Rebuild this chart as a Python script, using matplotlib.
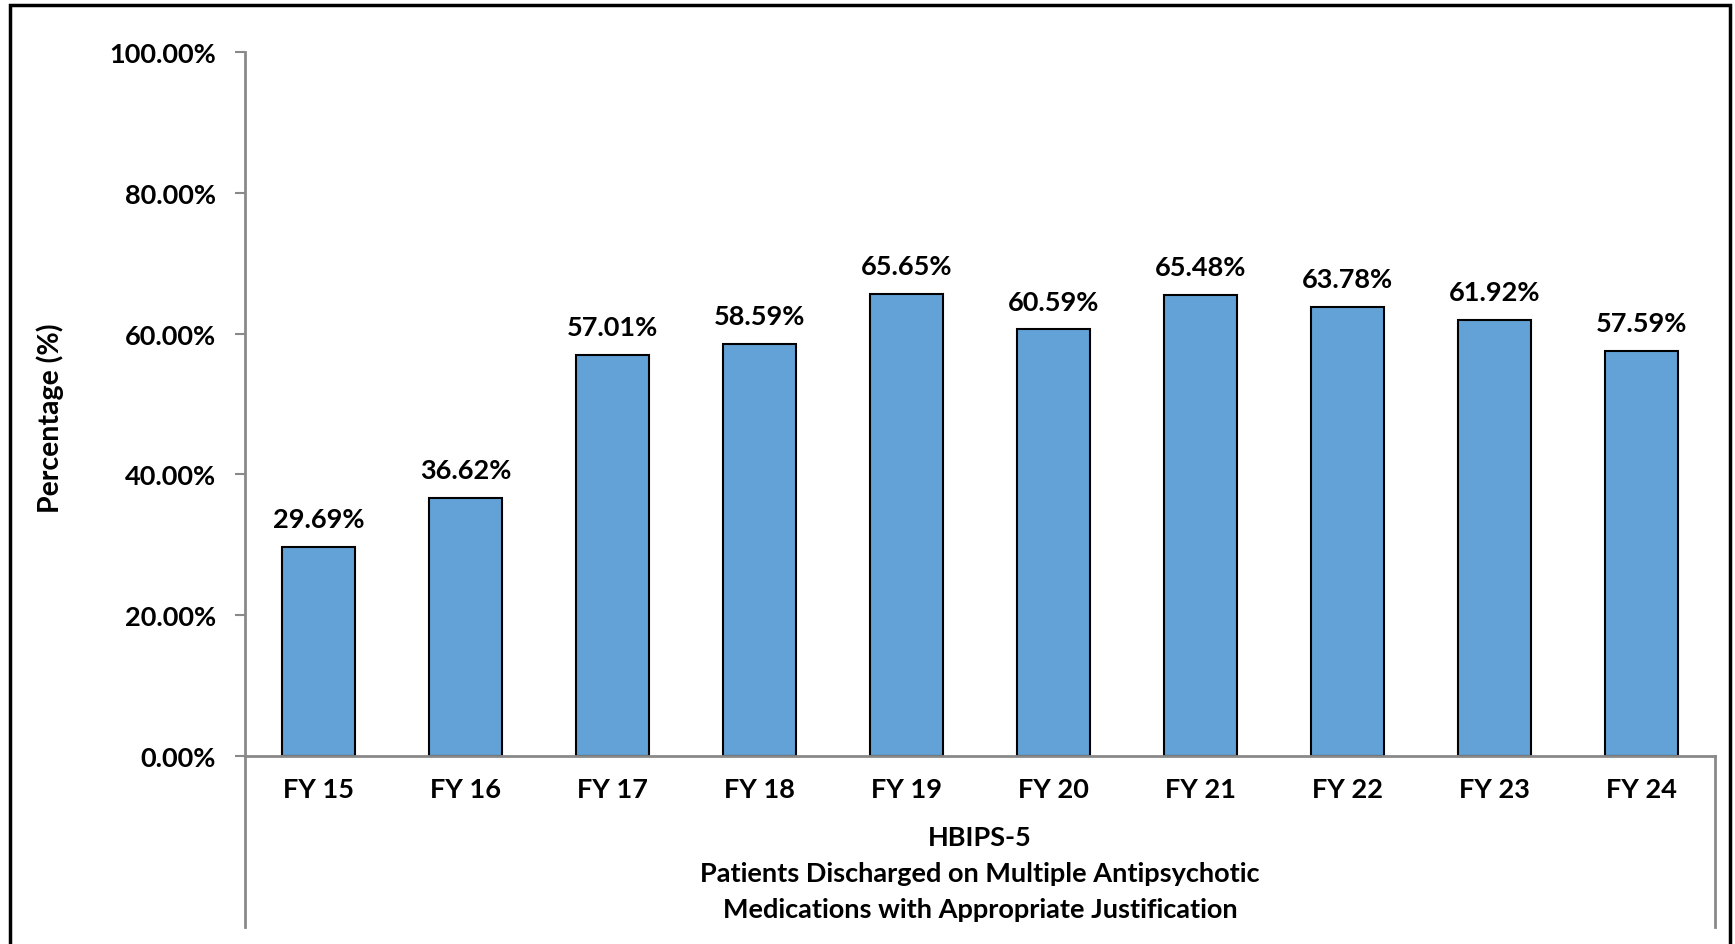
import matplotlib.pyplot as plt
from matplotlib.patches import Rectangle

years = ["FY 15", "FY 16", "FY 17", "FY 18", "FY 19", "FY 20", "FY 21", "FY 22", "FY 23", "FY 24"]
values = [29.69, 36.62, 57.01, 58.59, 65.65, 60.59, 65.48, 63.78, 61.92, 57.59]
yticks = [0, 20, 40, 60, 80, 100]
titleLines = ["HBIPS-5", "Patients Discharged on Multiple Antipsychotic", "Medications with Appropriate Justification"]

W, H = 1735, 945
FS = 19.5
plt.rcParams["font.family"] = ["Lato", "DejaVu Sans"]
plt.rcParams["font.weight"] = "bold"

fig = plt.figure(figsize=(W / 100, H / 100), dpi=100)
# axes placed in pixel terms of the reference
ax = fig.add_axes([245 / W, 1 - 757 / H, (1715 - 245) / W, (757 - 53) / H])

axisGrey = "#898989"
ax.bar(range(len(years)), values, width=0.5, color="#62A2D7", edgecolor="black", linewidth=1.5, zorder=2)
for i, v in enumerate(values):  # data labels
    ax.annotate("{:.2f}%".format(v), (i, v), xytext=(0, 20), textcoords="offset points",
                ha="center", va="center", fontsize=FS, fontweight="bold")

ax.set_xlim(-0.5, len(years) - 0.5)
ax.set_ylim(0, 100)
ax.set_yticks(yticks)
ax.set_yticklabels(["{:.2f}%".format(t) for t in yticks], fontsize=FS, fontweight="bold")
ax.set_xticks(range(len(years)))
ax.set_xticklabels(years, fontsize=FS, fontweight="bold")
ax.tick_params(axis="x", length=0, pad=15)
ax.tick_params(axis="y", length=7, width=1.5, color=axisGrey, pad=14)

for side in ["top", "right"]:
    ax.spines[side].set_visible(False)
for side in ["left", "bottom"]:
    ax.spines[side].set_color(axisGrey)
    ax.spines[side].set_linewidth(2)

# multi-level category axis lines below the plot
drop = -(928 - 757) / (757 - 53)
ax.plot([0, 0], [0, drop], transform=ax.transAxes, clip_on=False, color=axisGrey, lw=2)
ax.plot([1, 1], [0, drop], transform=ax.transAxes, clip_on=False, color=axisGrey, lw=2)

for k, line in enumerate(titleLines):
    fig.text(980 / W, 1 - (838 + 36 * k) / H, line, ha="center", va="center", fontsize=FS, fontweight="bold")

fig.text(50 / W, 1 - 418 / H, "Percentage (%)", rotation=90, ha="center", va="center", fontsize=FS + 1, fontweight="bold")

# outer chart border (bottom edge cut off in the reference)
fig.patches.append(Rectangle((10 / W, -0.05), (1730 - 10) / W, 1.05 - 6 / H, transform=fig.transFigure,
                             fill=False, edgecolor="black", linewidth=2.5))

fig.savefig("out.png", dpi=100)
